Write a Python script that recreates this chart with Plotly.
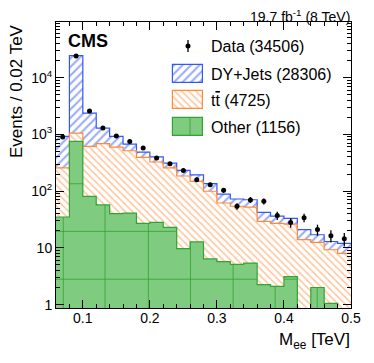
import numpy as np
import plotly.graph_objects as go

# Binning: 22 bins of 0.02 TeV from 0.06 to 0.50 TeV
bin_lo = 0.06
bin_w = 0.02
n_bins = 22

# Events per bin (stack order: Other, ttbar, DY)
other = [35, 750, 81, 57, 40, 41, 27, 28, 23, 9.7, 12.7, 6.4, 5.7, 5.1, 5.4,
         2.25, 2.1, 3.1, 0, 2.0, 1.05, 0]
ttbar = [222, 300, 534, 627, 557, 473, 365, 298, 233, 175, 136, 93, 56, 49, 47,
         27, 25, 23, 14, 10.5, 8.2, 8]
dyjets = [663, 23450, 1755, 606, 321, 161, 96, 74, 55, 48, 45, 36, 27, 18.5, 18,
          13, 9, 7, 7, 4.5, 3.7, 4]
data = [900, 24000, 2570, 1290, 940, 750, 573, 382, 303, 230, 159, 129, 103, 54,
        70, 66, 37, 28, 34, 21, 16.4, 14.4]
data_err = [30, 155, 51, 36, 31, 27, 24, 20, 17, 15, 13, 11, 10, 7.3, 8.4, 8.1,
            6.1, 5.3, 5.8, 4.6, 4.0, 3.8]

legend_labels = ["Data (34506)", "DY+Jets (28306)",
                 "t<span style='text-decoration:overline'>t</span> (4725)",
                 "Other (1156)"]

# seams drawn inside the "Other" fill
seam_x = [0.0709, 0.1331, 0.1978, 0.2606, 0.3242, 0.3869, 0.4496]
seam_y = [135, 19.5, 2.8]

BLUE = "#3358f5"
ORANGE = "#ff8a38"
GREEN_FILL = "#7fcb7f"
GREEN_LINE = "#30a530"
FONT = "Liberation Sans, Arial, sans-serif"

# page pixel frame of the plot area (page has an 8px body margin)
PAGE_OFF = 8
PL, PR, PT, PB = 56, 351, 22, 308

edges = bin_lo + bin_w * np.arange(n_bins + 1)
centers = edges[:-1] + bin_w / 2

other_a = np.array(other, dtype=float)
top_tt = other_a + np.array(ttbar)
top_dy = top_tt + np.array(dyjets)

fig = go.Figure()

# stacked histogram drawn back to front, each opaque
fig.add_trace(go.Bar(
    x=centers, y=top_dy, width=bin_w,
    marker=dict(color="white", line_width=0,
                pattern=dict(shape="/", fgcolor=BLUE, bgcolor="white",
                             size=6, solidity=0.35, fillmode="overlay")),
    showlegend=False, hoverinfo="skip"))
fig.add_trace(go.Bar(
    x=centers, y=top_tt, width=bin_w,
    marker=dict(color="white", line_width=0,
                pattern=dict(shape="\\", fgcolor=ORANGE, bgcolor="white",
                             size=5, solidity=0.3, fillmode="overlay")),
    showlegend=False, hoverinfo="skip"))
fig.add_trace(go.Bar(
    x=centers, y=other_a, width=bin_w,
    marker=dict(color=GREEN_FILL, line_width=0),
    showlegend=False, hoverinfo="skip"))


def step_xy(vals):
    v = np.where(np.array(vals) > 0, vals, 1e-3)
    return list(edges), list(v) + [v[-1]]


# seams inside the Other fill
sx, sy = [], []
for xs in seam_x:
    i = int((xs - bin_lo) // bin_w)
    if other_a[i] > 0:
        sx += [xs, xs, None]
        sy += [1e-3, other_a[i], None]
for lev in seam_y:
    i = 0
    while i < n_bins:
        if other_a[i] > lev:
            j = i
            while j + 1 < n_bins and other_a[j + 1] > lev:
                j += 1
            sx += [edges[i], edges[j + 1], None]
            sy += [lev, lev, None]
            i = j + 1
        else:
            i += 1
fig.add_trace(go.Scatter(x=sx, y=sy, mode="lines",
                         line=dict(color="rgba(45,160,45,0.75)", width=1),
                         showlegend=False, hoverinfo="skip"))

# histogram outlines
for vals, col in [(top_dy, BLUE), (top_tt, ORANGE), (other_a, GREEN_LINE)]:
    xs, ys = step_xy(vals)
    fig.add_trace(go.Scatter(x=xs, y=ys, mode="lines", line_shape="hv",
                             line=dict(color=col, width=1.2),
                             showlegend=False, hoverinfo="skip"))

# data points
fig.add_trace(go.Scatter(
    x=centers, y=data, mode="markers",
    marker=dict(color="black", size=5),
    error_y=dict(type="data", array=data_err, color="black", thickness=1.3, width=0),
    showlegend=False, hoverinfo="skip"))

# ---- legend drawn on an overlay axis in page pixel units ----
leg_rows = [46, 74, 100, 127]
box_x0, box_w, box_h = 173, 30, 18
fig.add_trace(go.Scatter(
    x=[box_x0 + box_w / 2], y=[leg_rows[0]], mode="markers",
    marker=dict(color="black", size=5),
    error_y=dict(type="constant", value=6, color="black", thickness=1.3, width=0),
    xaxis="x2", yaxis="y2", showlegend=False, hoverinfo="skip"))
box_styles = [
    dict(color="white", line=dict(color=BLUE, width=1.2),
         pattern=dict(shape="/", fgcolor=BLUE, bgcolor="white", size=6, solidity=0.35, fillmode="overlay")),
    dict(color="white", line=dict(color=ORANGE, width=1.2),
         pattern=dict(shape="\\", fgcolor=ORANGE, bgcolor="white", size=5, solidity=0.3, fillmode="overlay")),
    dict(color=GREEN_FILL, line=dict(color=GREEN_LINE, width=1.2)),
]
for row, mk in zip(leg_rows[1:], box_styles):
    fig.add_trace(go.Bar(
        y=[row], x=[box_w], base=[box_x0], width=[box_h], orientation="h",
        marker=mk, xaxis="x2", yaxis="y2", showlegend=False, hoverinfo="skip"))
fig.add_trace(go.Scatter(
    x=[box_x0 + 17, box_x0 + 17], y=[leg_rows[3] - box_h / 2, leg_rows[3] + box_h / 2],
    mode="lines", line=dict(color="rgba(45,160,45,0.75)", width=1),
    xaxis="x2", yaxis="y2", showlegend=False, hoverinfo="skip"))


def paper_x(px):
    return (px - PL) / (PR - PL)


def paper_y(py):
    return (PB - py) / (PB - PT)


annotations = []
for row, lab in zip(leg_rows, legend_labels):
    annotations.append(dict(x=209, y=row, xref="x2", yref="y2", text=lab,
                            showarrow=False, xanchor="left", yanchor="middle",
                            font=dict(size=16, color="black", family=FONT)))
annotations += [
    dict(x=66, y=41, xref="x2", yref="y2", text="<b>CMS</b>", showarrow=False,
         xanchor="left", yanchor="middle", font=dict(size=18, color="black", family=FONT)),
    dict(x=paper_x(352), y=paper_y(16), xref="paper", yref="paper",
         text="19.7 fb<sup>-1</sup> (8 TeV)", showarrow=False,
         xanchor="right", yanchor="middle",
         font=dict(size=14, color="black", family=FONT)),
    dict(x=paper_x(352), y=paper_y(341), xref="paper", yref="paper",
         text="M<sub>ee</sub> [TeV]", showarrow=False,
         xanchor="right", yanchor="middle",
         font=dict(size=17, color="black", family=FONT)),
    dict(x=paper_x(16), y=paper_y(91), xref="paper", yref="paper",
         text="Events / 0.02 TeV", textangle=-90, showarrow=False,
         xanchor="center", yanchor="middle",
         font=dict(size=17, color="black", family=FONT)),
]

minor_y = [m * 10 ** k for k in range(0, 5) for m in range(2, 10)]

fig.update_layout(
    width=374 - PAGE_OFF, height=363 - PAGE_OFF,
    margin=dict(l=PL - PAGE_OFF, r=374 - PR, t=PT - PAGE_OFF, b=363 - PB),
    paper_bgcolor="white", plot_bgcolor="white",
    barmode="overlay", bargap=0,
    font=dict(family=FONT, size=14, color="black"),
    annotations=annotations,
    xaxis=dict(range=[bin_lo, bin_lo + n_bins * bin_w],
               tickvals=[0.1, 0.2, 0.3, 0.4, 0.5], ticktext=["0.1", "0.2", "0.3", "0.4", "0.5"],
               ticks="inside", ticklen=8, tickwidth=1, tickcolor="black",
               minor=dict(dtick=0.02, tick0=0.0, ticks="inside", ticklen=4, tickcolor="black"),
               showline=True, linecolor="black", linewidth=1, mirror="ticks",
               showgrid=False, zeroline=False, tickfont=dict(size=14),
               ticklabelstandoff=-3),
    yaxis=dict(type="log", range=[-0.06, 4.98],
               tickvals=[1, 10, 100, 1000, 10000],
               ticktext=["1", "10", "10<sup>2</sup>", "10<sup>3</sup>", "10<sup>4</sup>"],
               ticks="inside", ticklen=8, tickwidth=1, tickcolor="black",
               minor=dict(tickvals=minor_y, ticks="inside", ticklen=4, tickcolor="black"),
               showline=True, linecolor="black", linewidth=1, mirror="ticks",
               showgrid=False, zeroline=False, tickfont=dict(size=14)),
    xaxis2=dict(overlaying="x", range=[PL, PR], visible=False, fixedrange=True),
    yaxis2=dict(overlaying="y", range=[PB, PT], visible=False, fixedrange=True),
)

fig.write_html("out.html")
